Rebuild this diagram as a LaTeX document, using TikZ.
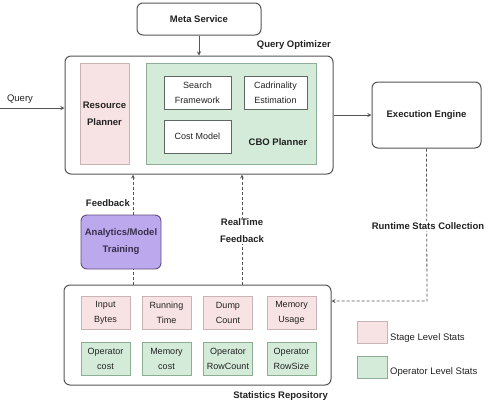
\documentclass[tikz,border=0pt]{standalone}
\usepackage{fontspec}
\setmainfont{Liberation Sans}
\usepackage{tikz}

\definecolor{rosa}{HTML}{F8E3E4}
\definecolor{rosaborda}{HTML}{C9B3B5}
\definecolor{verde}{HTML}{D3EBD8}
\definecolor{verdeborda}{HTML}{8DAE94}
\definecolor{roxo}{HTML}{BCA8EC}
\definecolor{roxoborda}{HTML}{5E4E80}
\definecolor{linha}{HTML}{555555}
\definecolor{texto}{HTML}{222222}

\begin{document}
\begin{tikzpicture}[x=1pt, y=-1pt, >=stealth,
    every node/.style={inner sep=0pt, text=texto, align=center, font=\fontsize{9.5}{15}\selectfont},
    caixa/.style={draw=linha, line width=1pt, rounded corners=6pt, fill=white},
    etiqueta/.style={font=\fontsize{9.5}{17}\selectfont\bfseries},
    estagio/.style={draw=rosaborda, fill=rosa, minimum width=49pt, minimum height=33pt, font=\fontsize{9}{15}\selectfont},
    operador/.style={draw=verdeborda, fill=verde, minimum width=49pt, minimum height=33pt, font=\fontsize{9}{15}\selectfont},
    modulo/.style={draw=linha!80!verdeborda, line width=0.9pt, fill=white, minimum height=33pt, font=\fontsize{9}{15}\selectfont},
    tracejada/.style={draw=linha, densely dashed, line width=0.8pt}]

    \useasboundingbox (0,0) rectangle (493,416);

    % servico de metadados
    \node[caixa, minimum width=124pt, minimum height=32pt, etiqueta] (meta) at (199,19) {Meta Service};

    % otimizador
    \node[caixa, minimum width=268pt, minimum height=118pt] (qo) at (199,115) {};
    \node[etiqueta, anchor=east] (qolabel) at (331,45) {Query Optimizer};
    \node[draw=rosaborda, fill=rosa, minimum width=49pt, minimum height=101pt, etiqueta] (resource) at (104.5,113.5) {Resource\\Planner};
    \node[draw=verdeborda, fill=verde, minimum width=170pt, minimum height=101pt] (cbo) at (231,113.5) {};
    \node[modulo, minimum width=67pt] (search) at (197.5,92.5) {Search\\Framework};
    \node[modulo, minimum width=63pt] (card) at (275.5,92.5) {Cadrinality\\Estimation};
    \node[modulo, minimum width=67pt] (cost) at (197.5,136.5) {Cost Model};
    \node[etiqueta] (cbolabel) at (278,142) {CBO Planner};

    % entrada e motor de execucao
    \node (query) at (20,99) {Query};
    \coordinate (qin) at (0,108);
    \node[caixa, minimum width=109pt, minimum height=66pt, etiqueta] (exec) at (426.5,115) {Execution Engine};

    \draw[->, linha, line width=0.9pt] (meta) -- (meta.south |- qo.north);
    \draw[->, linha, line width=0.9pt] (qin) -- (qin -| qo.west);
    \draw[->, linha, line width=0.9pt] (qo.east) -- (exec.west);

    % analise e treino
    \node[draw=roxoborda, fill=roxo, line width=0.9pt, rounded corners=6pt, minimum width=80pt, minimum height=54pt, etiqueta, text=roxoborda!60!black] (analytics) at (121,242) {Analytics/Model\\Training};
    \node[etiqueta, anchor=east] (fblabel) at (130,203) {Feedback};

    % repositorio de estatisticas
    \node[caixa, minimum width=267pt, minimum height=100pt] (stats) at (197.5,335) {};
    \node[etiqueta, anchor=east] (statslabel) at (328,396) {Statistics Repository};

    \foreach \i/\x/\txt in {1/105.5/{Input\\Bytes}, 2/166.5/{Running\\Time}, 3/228/{Dump\\Count}, 4/291.5/{Memory\\Usage}}
        \node[estagio] (st\i) at (\x,312.5) {\txt};
    \foreach \i/\x/\txt in {1/105.5/{Operator\\cost}, 2/166.5/{Memory\\cost}, 3/228/{Operator\\RowCount}, 4/291.5/{Operator\\RowSize}}
        \node[operador] (op\i) at (\x,358.5) {\txt};

    % legenda
    \node[draw=rosaborda, fill=rosa, minimum width=30pt, minimum height=22pt] (legst) at (372,332) {};
    \node[draw=verdeborda, fill=verde, minimum width=30pt, minimum height=22pt] (legop) at (372,367) {};
    \node[anchor=west] (legsttxt) at (390,338) {Stage Level Stats};
    \node[anchor=west] (legoptxt) at (390,372) {Operator Level Stats};

    % fluxos tracejados
    \coordinate (fb) at (133,0);
    \draw[tracejada] (fb |- stats.north) -- (fb |- analytics.south);
    \draw[tracejada, ->] (fb |- analytics.north) -- (fb |- qo.south);

    \coordinate (rtf) at (242,0);
    \draw[tracejada, ->] (rtf |- stats.north) -- (rtf |- qo.south);
    \node[etiqueta, fill=white, inner sep=1pt] (rtlabel) at (242,231) {RealTime\\Feedback};

    \coordinate (rt) at (427,301);
    \draw[tracejada, ->] (exec.south) -- (rt) -- (rt -| stats.east);
    \node[etiqueta, fill=white, inner sep=2pt] (rtclabel) at (428,226) {Runtime Stats Collection};

\end{tikzpicture}
\end{document}
